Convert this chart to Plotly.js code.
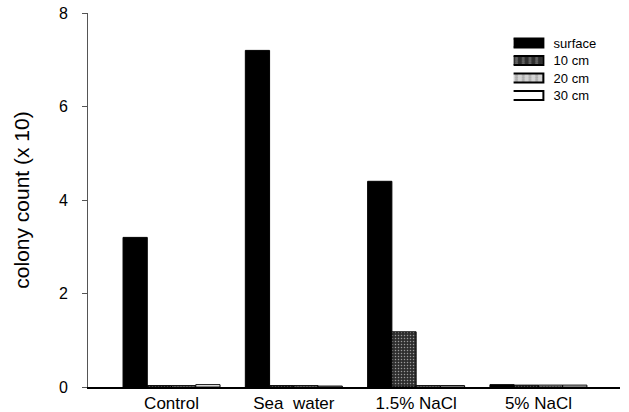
<!DOCTYPE html>
<html>
<head>
<meta charset="utf-8">
<script src="https://cdn.plot.ly/plotly-3.0.1.min.js"></script>
<style>html,body{margin:0;padding:0;background:#fff;}#chart{width:629px;height:412px;}</style>
</head>
<body>
<div id="chart"></div>
<script>
const categories = ["Control", "Sea  water", "1.5% NaCl", "5% NaCl"];
const seriesNames = ["surface", "10 cm", "20 cm", "30 cm"];
const surface = [3.2, 7.2, 4.4, 0.05];
const cm10 = [0.03, 0.03, 1.18, 0.04];
const cm20 = [0.03, 0.03, 0.03, 0.04];
const cm30 = [0.05, 0.02, 0.03, 0.04];
const yTicks = [0, 2, 4, 6, 8];

const styles = [
  {color: "#000000", pattern: {shape: ""}},
  {color: "#3a3a3a", pattern: {shape: ".", fgcolor: "#9a9a9a", bgcolor: "#2e2e2e", size: 3, solidity: 0.2}},
  {color: "#cccccc", pattern: {shape: ".", fgcolor: "#8a8a8a", bgcolor: "#d4d4d4", size: 3, solidity: 0.2}},
  {color: "#ffffff", pattern: {shape: ""}}
];
const values = [surface, cm10, cm20, cm30];

const traces = values.map((v, i) => ({
  type: "bar",
  name: seriesNames[i],
  x: categories,
  y: v,
  marker: {color: styles[i].color, pattern: styles[i].pattern, line: {color: "#000", width: 1}}
}));

const layout = {
  width: 629, height: 412,
  margin: {l: 88, r: 9, t: 13, b: 25},
  paper_bgcolor: "#fff", plot_bgcolor: "#fff",
  font: {family: "Liberation Sans, Arial, sans-serif", color: "#000"},
  barmode: "group",
  bargap: 0.207,
  bargroupgap: 0,
  showlegend: true,
  legend: {x: 0.800, y: 0.96, xanchor: "left", yanchor: "top", font: {size: 13}, tracegroupgap: 0, itemsizing: "constant", bgcolor: "rgba(0,0,0,0)"},
  xaxis: {
    type: "category", range: [-0.683, 3.667],
    showline: true, linecolor: "#000", linewidth: 1.5,
    ticks: "", tickfont: {size: 17}, ticklabelstandoff: 0,
    showgrid: false, zeroline: false, automargin: false
  },
  yaxis: {
    range: [0, 8], tickvals: yTicks, ticktext: yTicks.map(String),
    showline: true, linecolor: "#555", linewidth: 1,
    ticks: "outside", ticklen: 5, tickcolor: "#555", tickfont: {size: 16},
    ticklabelstandoff: 11,
    showgrid: false, zeroline: false, automargin: false,
    title: {text: "colony count (x 10)", font: {size: 21}, standoff: 23}
  }
};

Plotly.newPlot("chart", traces, layout, {staticPlot: true, displayModeBar: false}).then(() => {
  document.querySelectorAll("#chart .legend .legendpoints path").forEach(p => {
    p.setAttribute("transform", "translate(13,0) scale(2.8,0.75)");
    p.setAttribute("vector-effect", "non-scaling-stroke");
  });
  const items = document.querySelectorAll("#chart .legend .traces");
  let y0 = null;
  items.forEach((g, i) => {
    const t = g.getAttribute("transform") || "";
    const m = t.match(/translate\(\s*([-\d.]+)[ ,]+([-\d.]+)\s*\)/);
    if (!m) return;
    const x = parseFloat(m[1]);
    if (y0 === null) y0 = parseFloat(m[2]);
    g.setAttribute("transform", "translate(" + x + "," + (y0 + i * 17.5) + ")");
  });
});
</script>
</body>
</html>
